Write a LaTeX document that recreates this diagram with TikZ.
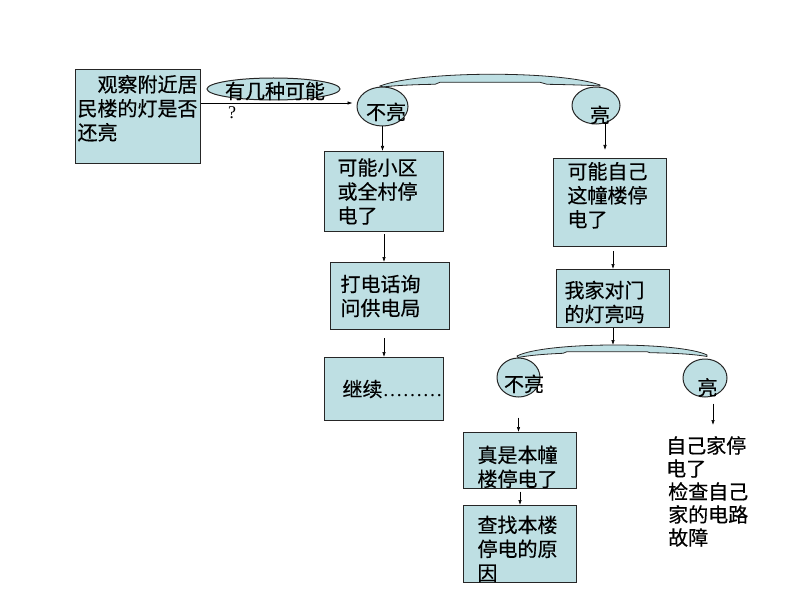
\documentclass[tikz,border=0pt]{standalone}
\usepackage{fontspec}
\setmainfont{Noto Sans CJK SC}[FakeBold=0.4]
\newfontfamily\latinserif{Liberation Serif}
\usetikzlibrary{shapes.geometric,arrows.meta}
\definecolor{paneblue}{RGB}{190,223,227}
\newcommand{\offtext}[3]{\makebox[0pt]{\hspace*{#1}\hspace*{#1}\smash{\raisebox{#2}{#3}}}}

\begin{document}
\begin{tikzpicture}[x=1pt,y=-1pt,
  panel/.style={draw=black!85, line width=1pt, fill=paneblue, anchor=north west, align=left, inner ysep=0pt, font=\fontsize{20}{24}\selectfont},
  bubble/.style={draw=black!85, line width=1pt, fill=paneblue, ellipse, inner sep=0pt, font=\fontsize{20}{24}\selectfont},
  link/.style={line width=0.6pt, -{Latex[length=5pt,width=3.5pt]}}]
\useasboundingbox (0,0) rectangle (794,596);

\filldraw[draw=black!85, fill=paneblue, line width=0.8pt] (380,86) .. controls (420,70.5) and (560,70.5) .. (600,85)
  -- (600,86) .. controls (585,85) and (560,84.5) .. (547,84.3) -- (540,82.3) -- (440,82.3) -- (435,84.3)
  .. controls (415,84.5) and (395,85.5) .. (383,87) -- cycle;
\filldraw[draw=black!85, fill=paneblue, line width=0.8pt] (517,356) .. controls (545,341.5) and (680,341.5) .. (707,355)
  -- (707,356.5) .. controls (690,353.5) and (665,353) .. (650,352.7) -- (647,351.7) -- (567,351.7) -- (563,353.3)
  .. controls (545,354) and (528,355.5) .. (518,357.5) -- cycle;
\coordinate (band2top) at (613,345);

\node[panel, inner xsep=2pt, text width=121pt, minimum height=94pt] (obs) at (75,69) {\hspace*{20pt}观察附近居\\民楼的灯是否\\还亮\rule[-18pt]{0pt}{18pt}};
\node[panel, inner xsep=13pt, text width=93pt, minimum height=80pt] (maybearea) at (324,151) {可能小区\\或全村停\\电了};
\node[panel, inner xsep=10pt, text width=99pt, minimum height=67pt] (callbureau) at (330,262) {打电话询\\问供电局};
\node[panel, inner xsep=18pt, text width=83pt, minimum height=63pt] (goon) at (324,357) {继续{\latinserif………}};
\node[panel, inner xsep=14pt, text width=85pt, minimum height=88pt] (maybeself) at (553,158) {可能自己\\这幢楼停\\电了\rule[-16pt]{0pt}{16pt}};
\node[panel, inner xsep=8pt, text width=97pt, minimum height=58pt] (opposite) at (556,269) {\rule{0pt}{24pt}我家对门\\的灯亮吗};
\node[panel, inner xsep=14pt, text width=85pt, minimum height=48pt] (reallyours) at (463,432) {\rule{0pt}{30pt}真是本幢\\楼停电了};
\node[panel, inner xsep=14pt, text width=85pt, minimum height=70pt] (findcause) at (463,505) {\rule{0pt}{27pt}查找本楼\\停电的原\\因};

\node[bubble, minimum width=133pt, minimum height=22pt] (question) at (273.5,89) {\offtext{1.5pt}{-9.6pt}{有几种可能}};
\node (qmark) at (232,113) {\latinserif\fontsize{18}{20}\selectfont ?};
\node[bubble, minimum width=51pt, minimum height=39pt] (dark1) at (382.5,106.5) {\offtext{3.5pt}{-13.1pt}{不亮}};
\node[bubble, minimum width=48pt, minimum height=37pt] (light1) at (596,105.5) {\offtext{4pt}{-17.1pt}{亮}};
\node[bubble, minimum width=43pt, minimum height=39pt] (dark2) at (518.5,377.5) {\offtext{5.5pt}{-14.1pt}{不亮}};
\node[bubble, minimum width=44pt, minimum height=38pt] (light2) at (705,378) {\offtext{2.5pt}{-17.1pt}{亮}};

\node[align=left, anchor=north west, inner sep=0pt, font=\fontsize{20}{23}\selectfont] (ownfault) at (666,436) {自己家停\\电了\\\hspace*{2pt}检查自己\\\hspace*{2pt}家的电路\\\hspace*{2pt}故障};

\draw[link, shorten >=4pt] ([yshift=13.5pt]obs.east) -- ([yshift=13.5pt]obs.east -| dark1.west);
\draw[link] (dark1.south) -- (dark1.south |- maybearea.north);
\draw[link, shorten <=2pt] (maybearea.south) -- (maybearea.south |- callbureau.north);
\draw[link, shorten <=8pt] (goon.north |- callbureau.south) -- (goon.north);
\draw[link, shorten >=8pt] ([xshift=9pt]light1.south) -- ([xshift=9pt]light1.south |- maybeself.north);
\draw[link, shorten <=4pt] (opposite.north |- maybeself.south) -- (opposite.north);
\draw[link] (opposite.south) -- (band2top);
\draw[link, shorten <=20pt] (dark2.south) -- (dark2.south |- reallyours.north);
\draw[link, shorten <=3pt] (reallyours.south) -- (reallyours.south |- findcause.north);
\draw[link, shorten <=6pt, shorten >=11pt] ([xshift=8pt]light2.south) -- ([xshift=8pt]light2.south |- ownfault.north);
\end{tikzpicture}
\end{document}
